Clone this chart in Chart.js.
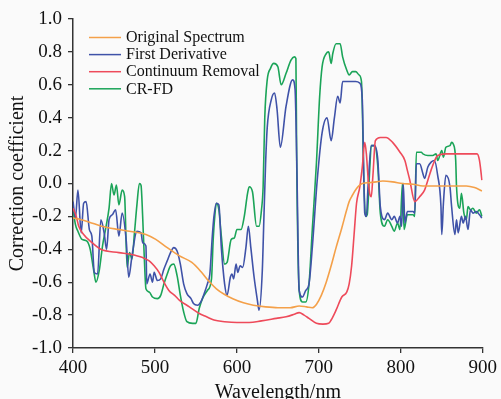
<!DOCTYPE html>
<html><head><meta charset="utf-8">
<script src="https://cdn.jsdelivr.net/npm/chart.js@4/dist/chart.umd.min.js"></script>
<style>html,body{margin:0;padding:0;background:#fafafa;}canvas{display:block;}</style>
</head><body>
<canvas id="c" width="501" height="399"></canvas>
<script>
const seriesNames = ['Original Spectrum','First Derivative','Continuum Removal','CR-FD'];
const xTickValues = [400,500,600,700,800,900];
const yTickValues = [-1.0,-0.8,-0.6,-0.4,-0.2,0.0,0.2,0.4,0.6,0.8,1.0];
const yTickLabels = ['-1.0','-0.8','-0.6','-0.4','-0.2','0.0','0.2','0.4','0.6','0.8','1.0'];

const origNm  = [400,410,420,435,456,475,489,501,515,530,545,556,565,575,585,595,608,620,635,650,665,676,685,692,697,703,709,715,721,728,734,737,740,746,753,762,770,778,790,802,815,827,850,880,890,899];
const origVal = [-0.21,-0.22,-0.235,-0.26,-0.28,-0.295,-0.31,-0.34,-0.39,-0.44,-0.48,-0.535,-0.59,-0.64,-0.675,-0.70,-0.725,-0.74,-0.75,-0.755,-0.755,-0.745,-0.75,-0.755,-0.735,-0.68,-0.60,-0.50,-0.39,-0.27,-0.16,-0.11,-0.08,-0.03,0.0,0.005,0.01,0.015,0.01,0.0,-0.005,-0.015,-0.015,-0.015,-0.025,-0.045];

const fdNm  = [400,403,406,410,413,416,420,423,426,430,434,438,441,444,448,452,456,460,465,468,472,478,483,485,489,490,494,497,499,503,507,511,515,519,523,527,531,535,539,544,547,552,556,560,564,567,570,572,575,578,581,585,588,592,594,596,599,601,604,607,611,614,617,621,625,627,631,633,635,637,642,646,649,653,660,668,671,673,676,680,684,688,692,698,704,710,715,719,723,726,729,734,740,745,750,753,755,756,758,760,764,768,772,775,780,784,789,792,796,799,801,803,805,808,815,817,819,823,827,829,833,837,841,845,849,850,852,855,860,862,866,868,870,874,876,879,882,885,888,892,896,899];
const fdVal = [-0.11,-0.21,-0.04,-0.30,-0.12,-0.11,-0.28,-0.32,-0.54,-0.55,-0.22,-0.30,-0.40,-0.22,-0.19,-0.16,-0.32,-0.18,-0.35,-0.57,-0.44,-0.29,-0.30,-0.36,-0.38,-0.61,-0.55,-0.60,-0.54,-0.59,-0.58,-0.52,-0.47,-0.42,-0.39,-0.41,-0.49,-0.61,-0.67,-0.70,-0.73,-0.74,-0.72,-0.67,-0.61,-0.55,-0.32,-0.20,-0.12,-0.13,-0.39,-0.61,-0.68,-0.57,-0.55,-0.58,-0.49,-0.54,-0.50,-0.51,-0.39,-0.26,-0.39,-0.57,-0.71,-0.77,-0.53,-0.20,0.12,0.34,0.51,0.55,0.45,0.22,0.47,0.63,0.57,0.15,-0.65,-0.69,-0.65,-0.61,-0.39,0.02,0.31,0.40,0.26,0.40,0.53,0.49,0.62,0.62,0.62,0.62,0.61,0.51,0.0,-0.18,-0.20,-0.02,0.23,0.23,0.14,-0.14,-0.22,-0.18,-0.22,-0.20,-0.24,-0.20,-0.26,0.0,-0.24,-0.17,-0.17,-0.18,0.12,0.12,0.06,0.03,0.10,0.13,0.14,0.05,-0.14,-0.31,-0.12,0.05,-0.02,-0.14,-0.31,-0.22,-0.30,-0.20,-0.24,-0.20,-0.28,-0.16,-0.18,-0.17,-0.19,-0.21];

const crNm  = [400,404,407,413,421,434,456,470,485,493,499,505,511,517,524,530,542,554,563,572,585,600,615,630,648,660,670,676,682,688,697,705,712,715,721,728,734,737,740,743,746,750,753,756,758,760,762,764,766,769,775,782,790,799,805,808,811,817,823,829,833,839,845,855,870,885,893,896,899];
const crVal = [-0.15,-0.20,-0.26,-0.31,-0.35,-0.40,-0.42,-0.43,-0.45,-0.47,-0.50,-0.54,-0.60,-0.65,-0.68,-0.71,-0.75,-0.79,-0.81,-0.83,-0.84,-0.845,-0.845,-0.835,-0.82,-0.81,-0.795,-0.785,-0.80,-0.82,-0.85,-0.855,-0.85,-0.83,-0.77,-0.69,-0.66,-0.61,-0.50,-0.31,-0.12,-0.02,0.10,0.25,0.18,0.04,-0.06,-0.08,0.05,0.26,0.28,0.28,0.25,0.19,0.14,0.08,0.02,-0.11,-0.08,-0.04,0.02,0.11,0.17,0.18,0.18,0.18,0.18,0.14,0.02];

const crfdNm  = [400,403,406,411,417,421,425,428,432,436,440,444,447,450,453,456,460,463,466,469,472,475,478,481,483,485,487,489,493,497,503,507,511,515,519,523,527,531,535,539,546,550,554,558,564,569,571,573,575,578,581,585,588,593,597,600,605,609,613,615,619,624,627,630,632,634,637,641,645,650,654,660,666,670,672,673,676,680,684,688,692,697,701,704,709,712,715,717,721,726,729,734,737,741,745,749,752,755,757,759,762,764,768,772,775,780,784,789,792,796,799,802,804,808,815,817,819,825,827,833,839,843,845,850,852,855,860,862,864,867,868,872,874,877,880,882,885,888,892,896,899];
const crfdVal = [-0.15,-0.25,-0.29,-0.34,-0.35,-0.40,-0.52,-0.60,-0.53,-0.38,-0.27,-0.15,0.0,-0.07,-0.01,-0.13,-0.04,-0.08,-0.51,-0.42,-0.46,-0.30,-0.13,0.0,-0.01,-0.20,-0.45,-0.64,-0.66,-0.69,-0.70,-0.68,-0.61,-0.55,-0.50,-0.49,-0.56,-0.68,-0.78,-0.84,-0.85,-0.85,-0.76,-0.70,-0.65,-0.58,-0.35,-0.20,-0.12,-0.16,-0.32,-0.49,-0.48,-0.34,-0.33,-0.28,-0.28,-0.20,-0.06,-0.02,-0.05,-0.26,-0.26,-0.16,-0.02,0.40,0.63,0.70,0.73,0.71,0.60,0.67,0.75,0.77,0.76,0.12,-0.65,-0.72,-0.72,-0.61,-0.28,0.12,0.53,0.71,0.79,0.80,0.73,0.79,0.85,0.85,0.77,0.69,0.66,0.68,0.68,0.66,0.62,0.0,-0.20,-0.19,0.08,0.23,0.23,0.10,-0.18,-0.26,-0.22,-0.26,-0.29,-0.24,-0.28,0.0,-0.28,-0.19,-0.19,-0.20,0.19,0.19,0.18,0.17,0.17,0.18,0.14,0.20,0.16,0.22,0.23,0.25,0.24,0.14,-0.02,-0.15,-0.06,-0.18,-0.22,-0.14,-0.16,-0.15,-0.18,-0.16,-0.20];

const colors = ['#F4A049','#3F52A8','#EE4A5A','#1BA458'];
const serif = '"Liberation Serif","Times New Roman",serif';

function pts(xs, ys){ return xs.map((x,i)=>({x:x,y:ys[i]})); }
const series = [[origNm,origVal],[fdNm,fdVal],[crNm,crVal],[crfdNm,crfdVal]];
const order = [0,2,1,3];
const datasets = series.map((s,i)=>({
  label: seriesNames[i],
  data: pts(s[0], s[1]),
  borderColor: colors[i],
  backgroundColor: colors[i],
  borderWidth: 1.6,
  pointRadius: 0,
  tension: 0,
  cubicInterpolationMode: 'monotone',
  order: order[i]
}));

const legendPlugin = {
  id: 'inLegend',
  afterDraw(chart){
    const ctx = chart.ctx;
    ctx.save();
    ctx.font = '16px ' + serif;
    ctx.textBaseline = 'middle';
    ctx.textAlign = 'left';
    chart.data.datasets.forEach((d,i)=>{
      const y = 37.5 + i*17.1;
      ctx.strokeStyle = d.borderColor;
      ctx.lineWidth = 1.5;
      ctx.beginPath(); ctx.moveTo(89, y); ctx.lineTo(121, y); ctx.stroke();
      ctx.fillStyle = '#111';
      ctx.fillText(d.label, 126, y + 0.5);
    });
    ctx.restore();
  }
};

new Chart(document.getElementById('c'), {
  type: 'line',
  data: { datasets: datasets },
  options: {
    responsive: false,
    animation: false,
    events: [],
    layout: { padding: { top: 19, right: 18, left: 0, bottom: 0 } },
    plugins: { legend: { display: false }, tooltip: { enabled: false } },
    scales: {
      x: {
        type: 'linear', min: 400, max: 900,
        afterBuildTicks: s => { s.ticks = xTickValues.map(v=>({value:v})); },
        afterFit: s => { s.height = 51; },
        grid: { drawOnChartArea: false, drawTicks: true, tickLength: 5, color: '#333', lineWidth: 1.3 },
        border: { display: true, color: '#333', width: 1.5 },
        ticks: { color: '#111', padding: 4, font: { family: serif, size: 19 }, maxRotation: 0,
                 callback: v => String(v) },
        title: { display: true, text: 'Wavelength/nm', color: '#111', font: { family: serif, size: 20 }, padding: { top: 0, bottom: -6 } }
      },
      y: {
        type: 'linear', min: -1, max: 1,
        afterBuildTicks: s => { s.ticks = yTickValues.map(v=>({value:v})); },
        afterFit: s => { s.width = 73; },
        grid: { drawOnChartArea: false, drawTicks: true, tickLength: 5, color: '#333', lineWidth: 1.3 },
        border: { display: true, color: '#333', width: 1.5 },
        ticks: { color: '#111', padding: 6, font: { family: serif, size: 19 },
                 callback: (v) => { const k = yTickValues.findIndex(t=>Math.abs(t-v)<1e-6); return k>=0 ? yTickLabels[k] : ''; } },
        title: { display: true, text: 'Correction coefficient', color: '#111', font: { family: serif, size: 20 }, padding: { top: 6, bottom: 0 } }
      }
    }
  },
  plugins: [legendPlugin]
});
</script>
</body></html>
